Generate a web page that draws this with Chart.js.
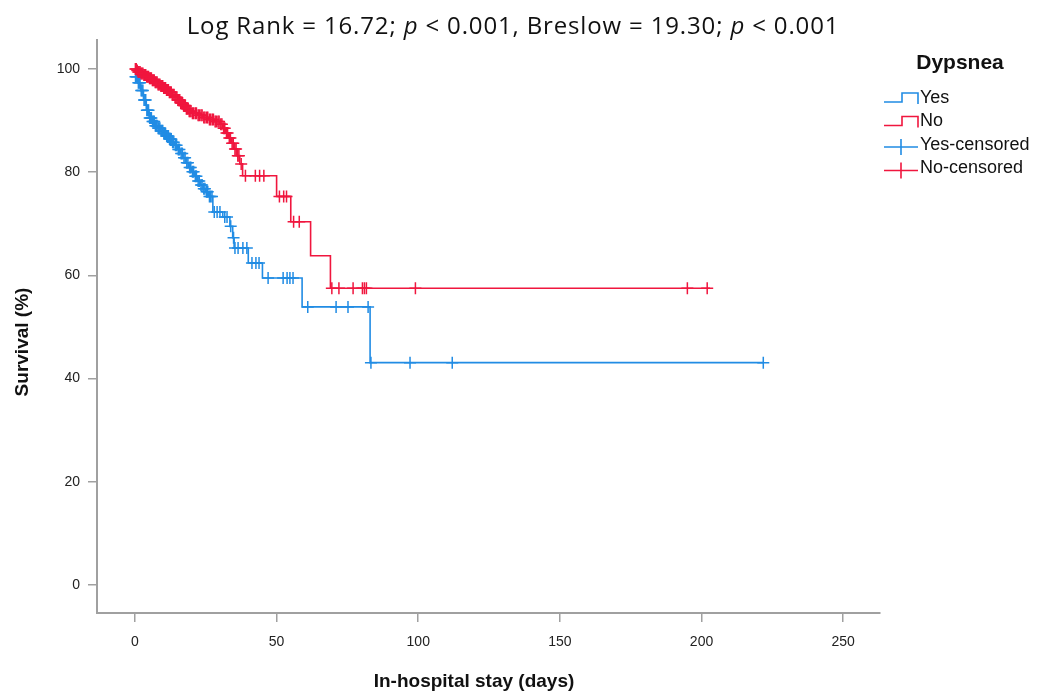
<!DOCTYPE html>
<html>
<head>
<meta charset="utf-8">
<script src="https://cdn.jsdelivr.net/npm/chart.js@4.4.1/dist/chart.umd.min.js"></script>
<style>
  html, body { margin: 0; padding: 0; background: #fff; }
  #chart { display: block; }
</style>
</head>
<body>
<canvas id="chart" width="1037" height="695"></canvas>
<script>
// Kaplan-Meier steps: day of event / survival (%) after it
const yesDays = [0, 1, 2, 3, 4, 5, 6, 7, 8, 9, 10, 11, 12, 13, 14, 15, 16, 17, 18, 19, 20, 21, 22, 23, 24, 25, 26, 27.5, 31, 33.5, 34.5, 35, 40, 45, 59, 83, 222];
const yesSurvival = [98.5, 97.3, 95.8, 94.0, 92.0, 90.5, 89.8, 89.0, 88.5, 88.0, 87.5, 87.0, 86.4, 85.8, 85.2, 84.4, 83.6, 82.8, 81.8, 80.9, 80.1, 79.2, 78.3, 77.5, 76.8, 76.2, 75.3, 72.3, 71.3, 69.5, 67.3, 65.3, 62.4, 59.5, 53.9, 43.1, 43.1];

const noDays = [0, 0.5, 1, 2, 3, 4, 5, 6, 7, 8, 9, 10, 11, 12, 13, 14, 15, 16, 17, 18, 19, 20, 22, 24, 26, 28, 30, 31, 32, 33, 34, 35, 36, 37, 38, 50, 55, 62, 69, 203];
const noSurvival = [100, 99.7, 99.4, 99.1, 98.8, 98.5, 98.2, 97.8, 97.4, 97.0, 96.7, 96.3, 95.9, 95.5, 95.0, 94.5, 94.0, 93.4, 92.9, 92.3, 91.8, 91.4, 91.0, 90.6, 90.2, 89.8, 89.3, 88.5, 87.6, 86.6, 85.6, 84.5, 83.2, 81.6, 79.3, 75.3, 70.4, 63.8, 57.5, 57.5];

// censored cases (day, survival level of the tick)
const yesCensoredDays = [
  0.2, 0.5, 0.8, 1.2, 1.5, 1.8, 2.2, 2.5, 2.8, 3.2, 3.5, 3.8, 4.2, 4.5, 4.8, 5.2, 5.5, 5.8, 6.2, 6.5, 6.8,
  7.2, 7.5, 7.8, 8.2, 8.5, 8.8, 9.2, 9.5, 9.8, 10.2, 10.5, 10.8, 11.2, 11.5, 11.8, 12.2, 12.5, 12.8,
  13.3, 13.7, 14.3, 14.7, 15.3, 15.7, 16.3, 16.7, 17.3, 17.7, 18.3, 18.7, 19.3, 19.7, 20.3, 20.7,
  21.3, 21.7, 22.3, 22.7, 23.3, 23.7, 24.3, 24.7, 25.3, 25.7, 26.3, 26.7, 27.2,
  28, 29, 30, 31.7, 32.5, 33.8, 34.8, 35.3, 36.4, 38.1, 39.5, 41.3, 42.7, 43.8,
  47, 52.3, 53.7, 54.7, 55.8, 61, 71, 75.2, 82.3, 83.3, 97.1, 112, 221.8
];
const yesCensoredSurvival = [
  98.5, 98.5, 98.5, 97.3, 97.3, 97.3, 95.8, 95.8, 95.8, 94.0, 94.0, 94.0, 92.0, 92.0, 92.0, 90.5, 90.5, 90.5, 89.8, 89.8, 89.8,
  89.0, 89.0, 89.0, 88.5, 88.5, 88.5, 88.0, 88.0, 88.0, 87.5, 87.5, 87.5, 87.0, 87.0, 87.0, 86.4, 86.4, 86.4,
  85.8, 85.8, 85.2, 85.2, 84.4, 84.4, 83.6, 83.6, 82.8, 82.8, 81.8, 81.8, 80.9, 80.9, 80.1, 80.1,
  79.2, 79.2, 78.3, 78.3, 77.5, 77.5, 76.8, 76.8, 76.2, 76.2, 75.3, 75.3, 75.3,
  72.3, 72.3, 72.3, 71.3, 71.3, 69.5, 67.3, 65.3, 65.3, 65.3, 65.3, 62.4, 62.4, 62.4,
  59.5, 59.5, 59.5, 59.5, 59.5, 53.9, 53.9, 53.9, 53.9, 43.1, 43.1, 43.1, 43.1
];

const noCensoredDays = [
  0.15, 0.45, 0.8, 1.15, 1.45, 1.8, 2.15, 2.45, 2.8, 3.15, 3.45, 3.8, 4.15, 4.45, 4.8, 5.15, 5.45, 5.8,
  6.15, 6.45, 6.8, 7.15, 7.45, 7.8, 8.15, 8.45, 8.8, 9.15, 9.45, 9.8, 10.15, 10.45, 10.8, 11.15, 11.45, 11.8,
  12.15, 12.45, 12.8, 13.15, 13.45, 13.8, 14.15, 14.45, 14.8, 15.15, 15.45, 15.8, 16.15, 16.45, 16.8,
  17.15, 17.45, 17.8, 18.15, 18.45, 18.8, 19.15, 19.45, 19.8,
  20.3, 20.7, 21.3, 21.7, 22.3, 22.7, 23.3, 23.7, 24.3, 24.7, 25.3, 25.7, 26.3, 26.7, 27.3, 27.7, 28.3, 28.7, 29.3, 29.7, 30.3, 30.7,
  31.3, 31.7, 32.3, 32.7, 33.3, 33.7, 34.3, 34.7, 35.3, 35.7, 36.3, 36.7, 37.5,
  39, 42.5, 44, 45.5, 51, 52.5, 53.5, 56, 58, 69.5, 72, 77, 80.3, 81, 81.7, 99, 195, 202
];
const noCensoredSurvival = [
  100, 100, 99.7, 99.4, 99.4, 99.4, 99.1, 99.1, 99.1, 98.8, 98.8, 98.8, 98.5, 98.5, 98.5, 98.2, 98.2, 98.2,
  97.8, 97.8, 97.8, 97.4, 97.4, 97.4, 97.0, 97.0, 97.0, 96.7, 96.7, 96.7, 96.3, 96.3, 96.3, 95.9, 95.9, 95.9,
  95.5, 95.5, 95.5, 95.0, 95.0, 95.0, 94.5, 94.5, 94.5, 94.0, 94.0, 94.0, 93.4, 93.4, 93.4,
  92.9, 92.9, 92.9, 92.3, 92.3, 92.3, 91.8, 91.8, 91.8,
  91.4, 91.4, 91.4, 91.4, 91.0, 91.0, 91.0, 91.0, 90.6, 90.6, 90.6, 90.6, 90.2, 90.2, 90.2, 90.2, 89.8, 89.8, 89.8, 89.8, 89.3, 89.3,
  88.5, 88.5, 87.6, 87.6, 86.6, 86.6, 85.6, 85.6, 84.5, 84.5, 83.2, 83.2, 81.6,
  79.3, 79.3, 79.3, 79.3, 75.3, 75.3, 75.3, 70.4, 70.4, 57.5, 57.5, 57.5, 57.5, 57.5, 57.5, 57.5, 57.5, 57.5
];

const xTicks = [0, 50, 100, 150, 200, 250];
const yTicks = [0, 20, 40, 60, 80, 100];

const legendTitle = 'Dypsnea';
const legendLabels = ['Yes', 'No', 'Yes-censored', 'No-censored'];
const titleParts = [
  { text: 'Log Rank = 16.72; ', italic: false },
  { text: 'p', italic: true },
  { text: ' < 0.001, Breslow = 19.30; ', italic: false },
  { text: 'p', italic: true },
  { text: ' < 0.001', italic: false }
];
const xTitle = 'In-hospital stay (days)';
const yTitle = 'Survival (%)';

const BLUE = 'rgb(33,140,228)';
const RED = 'rgb(240,22,62)';

const toPoints = (xs, ys) => xs.map((x, i) => ({ x: x, y: ys[i] }));

// title, axis titles and legend drawn by hand (SPSS style)
const decorations = {
  id: 'decorations',
  afterDraw(chart) {
    const ctx = chart.ctx;
    ctx.save();

    // title with italic p
    const tf = (it) => (it ? 'italic ' : '') + '24px "Open Sans", sans-serif';
    ctx.letterSpacing = '0.85px';
    let total = 0;
    titleParts.forEach(p => { ctx.font = tf(p.italic); total += ctx.measureText(p.text).width; });
    let x = 513 - total / 2;
    ctx.fillStyle = '#111';
    ctx.textBaseline = 'alphabetic';
    ctx.textAlign = 'left';
    titleParts.forEach(p => {
      ctx.font = tf(p.italic);
      ctx.fillText(p.text, x, 34);
      x += ctx.measureText(p.text).width;
    });
    ctx.letterSpacing = '0px';

    // axis titles
    ctx.font = 'bold 19px "Liberation Sans", Arial, sans-serif';
    ctx.textAlign = 'center';
    ctx.textBaseline = 'middle';
    ctx.fillText(xTitle, 474, 682);
    ctx.save();
    ctx.translate(23, 342);
    ctx.rotate(-Math.PI / 2);
    ctx.fillText(yTitle, 0, 0);
    ctx.restore();

    // legend
    ctx.font = 'bold 21px "Liberation Sans", Arial, sans-serif';
    ctx.fillText(legendTitle, 960, 63);
    ctx.font = '18px "Liberation Sans", Arial, sans-serif';
    ctx.textAlign = 'left';
    const colors = [BLUE, RED, BLUE, RED];
    legendLabels.forEach((lab, i) => {
      const cy = 98 + i * 23.5;
      ctx.strokeStyle = colors[i];
      ctx.lineWidth = 1.6;
      ctx.beginPath();
      if (i < 2) {
        ctx.moveTo(884, cy + 4);
        ctx.lineTo(902, cy + 4);
        ctx.lineTo(902, cy - 5);
        ctx.lineTo(918, cy - 5);
        ctx.lineTo(918, cy + 6);
      } else {
        ctx.moveTo(884, cy + 2);
        ctx.lineTo(918, cy + 2);
        ctx.moveTo(901, cy - 6);
        ctx.lineTo(901, cy + 10);
      }
      ctx.stroke();
      ctx.fillStyle = '#111';
      ctx.fillText(lab, 920, cy);
    });
    ctx.restore();
  }
};

const axisFont = { family: '"Liberation Sans", Arial, sans-serif', size: 14 };

new Chart(document.getElementById('chart'), {
  data: {
    datasets: [
      {
        type: 'scatter',
        label: 'No-censored',
        data: toPoints(noCensoredDays, noCensoredSurvival),
        pointStyle: 'cross',
        pointRadius: 6,
        borderColor: RED,
        borderWidth: 1.5,
        order: 1
      },
      {
        type: 'line',
        label: 'No',
        data: toPoints(noDays, noSurvival),
        stepped: true,
        borderColor: RED,
        borderWidth: 1.6,
        pointRadius: 0,
        fill: false,
        order: 2
      },
      {
        type: 'scatter',
        label: 'Yes-censored',
        data: toPoints(yesCensoredDays, yesCensoredSurvival),
        pointStyle: 'cross',
        pointRadius: 6,
        borderColor: BLUE,
        borderWidth: 1.5,
        order: 3
      },
      {
        type: 'line',
        label: 'Yes',
        data: toPoints(yesDays, yesSurvival),
        stepped: true,
        borderColor: BLUE,
        borderWidth: 1.6,
        pointRadius: 0,
        fill: false,
        order: 4
      }
    ]
  },
  options: {
    responsive: false,
    animation: false,
    devicePixelRatio: 1,
    layout: { padding: { top: 40, right: 157, left: 0, bottom: 0 } },
    plugins: {
      legend: { display: false },
      tooltip: { enabled: false }
    },
    scales: {
      x: {
        type: 'linear',
        min: -13.4,
        max: 263,
        afterBuildTicks: (s) => { s.ticks = xTicks.map(v => ({ value: v })); },
        afterFit: (s) => { s.height = 82; },
        ticks: { font: axisFont, color: '#222', padding: 12, maxRotation: 0 },
        grid: { drawOnChartArea: false, color: '#a0a0a0', tickLength: 9, lineWidth: 1.5 },
        border: { color: '#a0a0a0', width: 2 }
      },
      y: {
        type: 'linear',
        min: -5.4,
        max: 105.6,
        afterBuildTicks: (s) => { s.ticks = yTicks.map(v => ({ value: v })); },
        afterFit: (s) => { s.width = 97; },
        ticks: { font: axisFont, color: '#222', padding: 8 },
        grid: { drawOnChartArea: false, color: '#a0a0a0', tickLength: 9, lineWidth: 1.5 },
        border: { color: '#a0a0a0', width: 2 }
      }
    }
  },
  plugins: [decorations]
});
</script>
</body>
</html>
